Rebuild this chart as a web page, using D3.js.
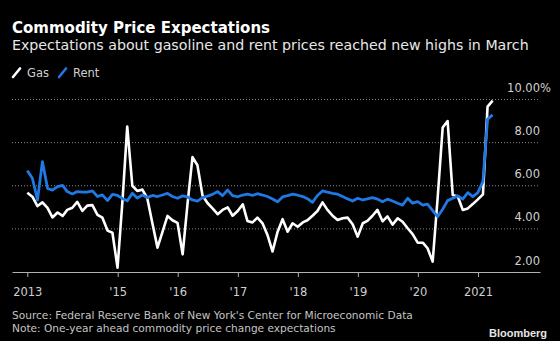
<!DOCTYPE html>
<html>
<head>
<meta charset="utf-8">
<script src="https://cdn.jsdelivr.net/npm/d3@7"></script>
<style>
  html, body { margin: 0; padding: 0; background: #000; }
  svg { display: block; }
</style>
</head>
<body>
<svg id="chart" width="560" height="341"></svg>
<script>
// Monthly survey series, one value per month starting June 2013 (percent)
const firstMonth = "2013-06";
const gas = [
  5.68, 5.49, 5.06, 5.23, 4.97, 4.53, 4.76, 4.60, 4.88, 4.98,
  5.25, 4.83, 5.08, 5.10, 4.65, 4.52, 3.92, 3.82, 2.20, 5.40,
  8.74, 6.00, 5.76, 5.82, 5.42, 4.26, 3.13, 3.85, 4.60, 4.40,
  4.28, 2.82, 5.10, 7.33, 6.95, 5.55, 5.20, 4.95, 4.68, 4.88,
  5.00, 4.61, 4.83, 5.14, 4.37, 4.30, 4.52, 4.26, 3.72, 2.95,
  3.87, 4.45, 3.87, 4.26, 4.10, 4.30, 4.40, 4.61, 4.83, 5.23,
  4.88, 4.61, 4.41, 4.49, 4.52, 4.21, 3.64, 4.26, 4.37, 4.61,
  4.88, 4.35, 4.58, 4.20, 4.49, 4.33, 4.03, 3.76, 3.36, 3.36,
  3.10, 2.48, 5.40, 8.70, 9.00, 5.57, 5.50, 4.88, 4.95, 5.15,
  5.37, 5.60, 9.67, 9.95
];
const rent = [
  6.70, 6.35, 5.34, 7.12, 5.88, 5.80, 5.96, 6.02, 5.73, 5.62,
  5.73, 5.70, 5.70, 5.76, 5.50, 5.58, 5.31, 5.60, 5.55, 5.40,
  5.30, 5.65, 5.43, 5.57, 5.45, 5.55, 5.50, 5.57, 5.65, 5.50,
  5.42, 5.53, 5.48, 5.34, 5.29, 5.45, 5.52, 5.60, 5.73, 5.54,
  5.80, 5.54, 5.49, 5.57, 5.61, 5.55, 5.63, 5.57, 5.50, 5.39,
  5.26, 5.48, 5.54, 5.61, 5.56, 5.50, 5.40, 5.23, 5.55, 5.76,
  5.70, 5.65, 5.61, 5.50, 5.39, 5.29, 5.42, 5.34, 5.39, 5.45,
  5.38, 5.26, 5.38, 5.29, 5.19, 5.10, 5.42, 5.19, 5.26, 5.10,
  5.15, 4.85, 4.57, 4.91, 5.31, 5.42, 5.53, 5.38, 5.68, 5.50,
  5.68, 6.20, 9.09, 9.29
];
const tickYears = [2015, 2016, 2017, 2018, 2019, 2020, 2021];
const tickLabels = ["2013", "'15", "'16", "'17", "'18", "'19", "'20", "2021"];
const yTicks = [2, 4, 6, 8, 10];

const seriesColors = { gas: "#ffffff", rent: "#1f78e4" };
const font = "'DejaVu Sans', sans-serif";

const svg = d3.select("#chart");
svg.append("rect").attr("width", 560).attr("height", 341).attr("fill", "#000");

// each observation is stamped at the end of its month
const start = d3.timeParse("%Y-%m")(firstMonth);
const dates = gas.map((_, i) => d3.timeDay.offset(d3.timeMonth.offset(start, i + 1), -1));

const x = d3.scaleTime()
  .domain([new Date(2013, 2, 29), new Date(2022, 0, 13)])
  .range([12, 540]);
const y = d3.scaleLinear().domain([2, 10]).range([272, 99.5]);

// headings
svg.append("text").attr("x", 12).attr("y", 32.5)
  .attr("font-family", font).attr("font-weight", "bold").attr("font-size", 15)
  .attr("fill", "#fff").text("Commodity Price Expectations");
svg.append("text").attr("x", 12).attr("y", 50)
  .attr("font-family", font).attr("font-size", 14.2)
  .attr("fill", "#e8e8e8").text("Expectations about gasoline and rent prices reached new highs in March");

// legend
const legend = [
  { name: "Gas", color: seriesColors.gas, x: 12 },
  { name: "Rent", color: seriesColors.rent, x: 58 }
];
const lg = svg.append("g");
legend.forEach(d => {
  lg.append("line")
    .attr("x1", d.x + 1).attr("y1", 77).attr("x2", d.x + 8).attr("y2", 68.5)
    .attr("stroke", d.color).attr("stroke-width", 2.6).attr("stroke-linecap", "round");
  lg.append("text").attr("x", d.x + 15).attr("y", 77)
    .attr("font-family", font).attr("font-size", 11.5)
    .attr("fill", "#cfcfcf").text(d.name);
});

// dotted gridlines
svg.append("g").selectAll("line")
  .data(yTicks.filter(v => v > 2))
  .join("line")
  .attr("x1", 12).attr("x2", 540)
  .attr("y1", d => y(d)).attr("y2", d => y(d))
  .attr("stroke", "#8a8a8a").attr("stroke-width", 1)
  .attr("stroke-dasharray", "1,2");

// value labels sitting above each gridline at the right edge
const yl = svg.append("g").attr("font-family", font).attr("font-size", 11.5).attr("fill", "#d0d0d0");
yl.selectAll("text.v")
  .data(yTicks)
  .join("text")
  .attr("class", "v")
  .attr("x", 540).attr("y", d => y(d) - 7.5)
  .attr("text-anchor", "end")
  .text(d => d3.format(".2f")(d));
yl.append("text")
  .attr("x", 540).attr("y", y(yTicks[yTicks.length - 1]) - 7.5)
  .text("%");

// x axis
const tickDates = [dates[0]].concat(tickYears.map(yr => new Date(yr, 0, 1)));
const xAxis = d3.axisBottom(x)
  .tickValues(tickDates)
  .tickFormat((d, i) => tickLabels[i])
  .tickSize(5)
  .tickSizeOuter(0);
const ax = svg.append("g").attr("transform", `translate(0,${y(2)})`).call(xAxis);
ax.select(".domain").attr("stroke", "#b0b0b0").attr("stroke-width", 1.2);
ax.selectAll(".tick line").attr("stroke", "#b0b0b0");
ax.selectAll(".tick text")
  .attr("y", 16)
  .attr("font-family", font).attr("font-size", 11.5).attr("fill", "#cfcfcf");

// series lines
const line = d3.line()
  .x((d, i) => x(dates[i]))
  .y(d => y(d));
svg.append("path").datum(gas)
  .attr("d", line).attr("fill", "none")
  .attr("stroke", seriesColors.gas).attr("stroke-width", 2.6)
  .attr("stroke-linejoin", "round");
svg.append("path").datum(rent)
  .attr("d", line).attr("fill", "none")
  .attr("stroke", seriesColors.rent).attr("stroke-width", 2.8)
  .attr("stroke-linejoin", "round");

// footnotes
const notes = [
  "Source: Federal Reserve Bank of New York's Center for Microeconomic Data",
  "Note: One-year ahead commodity price change expectations"
];
svg.append("g").selectAll("text")
  .data(notes)
  .join("text")
  .attr("x", 12).attr("y", (d, i) => 319 + i * 13)
  .attr("font-family", font).attr("font-size", 10.6)
  .attr("fill", "#c4c4c4")
  .text(d => d);
svg.append("text")
  .attr("x", 547).attr("y", 337)
  .attr("text-anchor", "end")
  .attr("font-family", "'Liberation Sans', Arial, sans-serif")
  .attr("font-weight", "bold").attr("font-size", 11)
  .attr("fill", "#e6e6e6")
  .text("Bloomberg");
</script>
</body>
</html>
